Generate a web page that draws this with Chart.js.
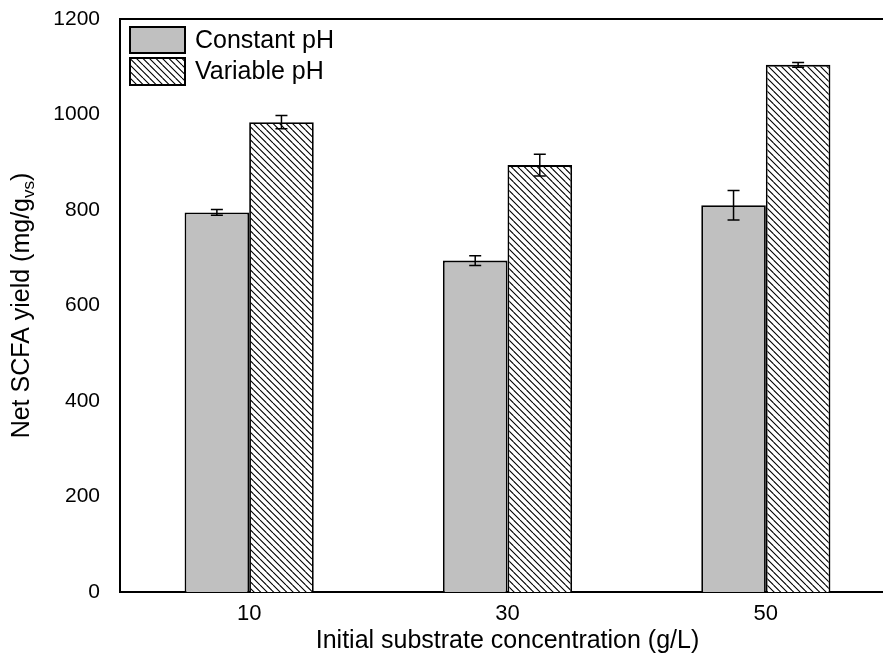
<!DOCTYPE html>
<html><head><meta charset="utf-8">
<script src="https://cdn.jsdelivr.net/npm/chart.js@4"></script>
<style>html,body{margin:0;padding:0;overflow:hidden;background:#fff}#wrap{width:895px;height:663px;position:relative}</style>
</head><body><div id="wrap"><canvas id="c"></canvas></div>
<script>
const categories = ['10', '30', '50'];
const seriesLabels = ['Constant pH', 'Variable pH'];
const constantPH = [795, 694, 810];
const constantErr = [6, 10, 31];
const variablePH = [984, 894, 1104];
const variableErr = [14, 23, 5];
const yTicks = [0, 200, 400, 600, 800, 1000, 1200];
const xTitle = 'Initial substrate concentration (g/L)';
const yTitleMain = 'Net SCFA yield (mg/g';
const yTitleSub = 'vs';
const yTitleEnd = ')';

const FONT = '"Liberation Sans", Arial, sans-serif';
Chart.defaults.font.family = FONT;
Chart.defaults.color = '#000';

function hatch() {
  const s = 13;
  const c = document.createElement('canvas');
  c.width = s; c.height = s;
  const g = c.getContext('2d');
  g.fillStyle = '#fff'; g.fillRect(0, 0, s, s);
  g.strokeStyle = '#000'; g.lineWidth = 1.1;
  g.beginPath();
  for (const o of [-s, -s / 2, 0, s / 2, s]) { g.moveTo(o, 0); g.lineTo(o + s, s); }
  g.stroke();
  return g.createPattern(c, 'repeat');
}
const hatchPattern = hatch();

const errPlugin = {
  id: 'errbars',
  afterDatasetsDraw(chart) {
    const { ctx } = chart; const y = chart.scales.y;
    chart.data.datasets.forEach((ds, i) => {
      const meta = chart.getDatasetMeta(i);
      meta.data.forEach((bar, j) => {
        const v = ds.data[j], e = ds.err[j];
        const x = bar.x;
        const t = y.getPixelForValue(v + e), b = y.getPixelForValue(v - e);
        ctx.save();
        ctx.strokeStyle = '#000'; ctx.lineWidth = 1.5;
        ctx.beginPath();
        ctx.moveTo(x, t); ctx.lineTo(x, b);
        ctx.moveTo(x - 6, t); ctx.lineTo(x + 6, t);
        ctx.moveTo(x - 6, b); ctx.lineTo(x + 6, b);
        ctx.stroke();
        ctx.restore();
      });
    });
  }
};

const framePlugin = {
  id: 'frame',
  afterDraw(chart) {
    const { ctx, chartArea: a } = chart;
    ctx.save();
    ctx.strokeStyle = '#000'; ctx.lineWidth = 2;
    ctx.beginPath(); ctx.moveTo(a.left - 1, a.top); ctx.lineTo(a.right, a.top); ctx.stroke();
    const sw = [{ y: a.top + 8, h: 26 }, { y: a.top + 39, h: 27 }];
    chart.data.datasets.forEach((ds, i) => {
      const x0 = a.left + 10, w = 55;
      ctx.fillStyle = ds.backgroundColor;
      ctx.fillRect(x0, sw[i].y, w, sw[i].h);
      ctx.strokeStyle = '#000'; ctx.lineWidth = 2;
      ctx.strokeRect(x0, sw[i].y, w, sw[i].h);
      ctx.fillStyle = '#000';
      ctx.font = '25px ' + FONT;
      ctx.textAlign = 'left'; ctx.textBaseline = 'middle';
      ctx.fillText(ds.label, x0 + w + 10, sw[i].y + sw[i].h / 2 + 1);
    });
    const cx = 22, cy = (a.top + a.bottom) / 2;
    ctx.translate(cx, cy); ctx.rotate(-Math.PI / 2);
    const big = '25px ' + FONT, small = '17px ' + FONT;
    ctx.font = big; const w1 = ctx.measureText(yTitleMain).width; const w3 = ctx.measureText(yTitleEnd).width;
    ctx.font = small; const w2 = ctx.measureText(yTitleSub).width;
    let sx = -(w1 + w2 + w3) / 2;
    ctx.textAlign = 'left'; ctx.textBaseline = 'middle'; ctx.fillStyle = '#000';
    ctx.font = big; ctx.fillText(yTitleMain, sx, 0); sx += w1;
    ctx.font = small; ctx.fillText(yTitleSub, sx, 7); sx += w2;
    ctx.font = big; ctx.fillText(yTitleEnd, sx, 0);
    ctx.restore();
  }
};

new Chart(document.getElementById('c'), {
  type: 'bar',
  data: {
    labels: categories,
    datasets: [
      { label: seriesLabels[0], data: constantPH, err: constantErr, backgroundColor: '#c0c0c0', borderColor: '#000', borderWidth: 1.8 },
      { label: seriesLabels[1], data: variablePH, err: variableErr, backgroundColor: hatchPattern, borderColor: '#000', borderWidth: 1.8 }
    ]
  },
  options: {
    responsive: true, maintainAspectRatio: false, animation: false,
    layout: { padding: { top: 19, left: 0, right: 0, bottom: 0 } },
    datasets: { bar: { categoryPercentage: 0.5, barPercentage: 1.0 } },
    plugins: { legend: { display: false }, tooltip: { enabled: false } },
    scales: {
      x: {
        offset: true,
        grid: { display: false },
        border: { display: true, color: '#000', width: 2 },
        ticks: { font: { size: 22 }, color: '#000', padding: 1 },
        title: { display: true, text: xTitle, font: { size: 25 }, color: '#000', padding: { top: 0, bottom: 7 } },
        afterFit(s) { s.height = 71; s.paddingLeft = 0; s.paddingRight = 0; }
      },
      y: {
        min: 0, max: 1200,
        grid: { display: false },
        border: { display: true, color: '#000', width: 2 },
        afterBuildTicks(s) { s.ticks = yTicks.map(v => ({ value: v })); },
        ticks: { font: { size: 21 }, color: '#000', padding: 12, callback: v => String(v) },
        afterFit(s) { s.width = 120; s.paddingTop = 0; s.paddingBottom = 0; }
      }
    }
  },
  plugins: [errPlugin, framePlugin]
});
</script>
</body></html>
